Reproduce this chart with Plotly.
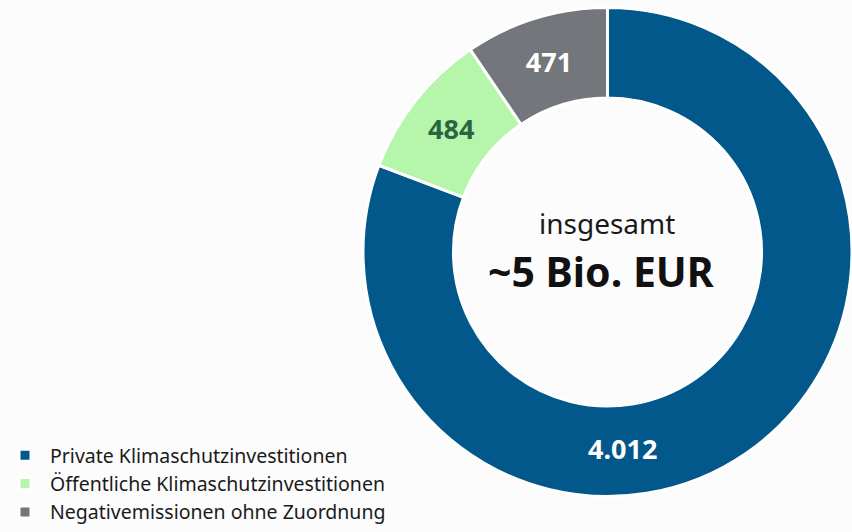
import plotly.graph_objects as go

categories = ["Private Klimaschutzinvestitionen", "Öffentliche Klimaschutzinvestitionen", "Negativemissionen ohne Zuordnung"]
values = [4012, 484, 471]
value_labels = ["4.012", "484", "471"]
colors = ["#02588a", "#b5f6aa", "#73777b"]
text_colors = ["#ffffff", "#2b6443", "#ffffff"]

fig = go.Figure()
fig.add_trace(go.Pie(
    labels=categories,
    values=values,
    hole=0.63,
    sort=False,
    direction="clockwise",
    rotation=0,
    marker=dict(colors=colors, line=dict(color="#ffffff", width=3)),
    text=["", value_labels[1], value_labels[2]],
    textinfo="text",
    textposition="inside",
    insidetextorientation="horizontal",
    textfont=dict(family="Noto Sans", size=27, color=text_colors, weight="bold"),
    hoverinfo="label+value",
    domain=dict(x=[363/852, 1.0], y=[1 - 497/532, 1 - 7/532]),
    showlegend=True,
))

fig.add_annotation(x=622/852, y=1 - 448/532, xref="paper", yref="paper",
                   xanchor="center", yanchor="middle",
                   text="<b>" + value_labels[0] + "</b>", showarrow=False,
                   font=dict(family="Noto Sans", size=27, color="#ffffff"))
fig.add_annotation(x=607/852, y=1 - 223/532, xref="paper", yref="paper",
                   xanchor="center", yanchor="middle",
                   text="insgesamt", showarrow=False,
                   font=dict(family="Noto Sans", size=28, color="#1a1a1a"))
fig.add_annotation(x=601/852, y=1 - 271/532, xref="paper", yref="paper",
                   xanchor="center", yanchor="middle",
                   text="<b>~5 Bio. EUR</b>", showarrow=False,
                   font=dict(family="Noto Sans", size=41, color="#111111"))

fig.update_layout(
    width=852, height=532,
    margin=dict(l=0, r=0, t=0, b=0),
    paper_bgcolor="#fcfcfc",
    plot_bgcolor="#fcfcfc",
    legend=dict(x=0.0, y=0.0, xanchor="left", yanchor="bottom",
                font=dict(family="Noto Sans", size=19.5, color="#1a1a1a"),
                bgcolor="rgba(0,0,0,0)", tracegroupgap=0, itemwidth=40),
)

fig.write_html("out.html", config={"displayModeBar": False},
               post_script="document.body.style.margin='0';document.body.style.background='#fcfcfc';")
